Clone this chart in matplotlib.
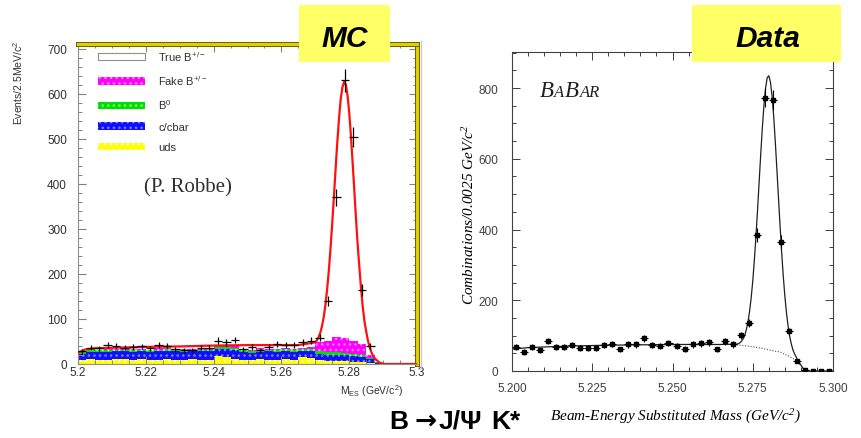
import numpy as np
import matplotlib.pyplot as plt
import matplotlib.patheffects as pe
from matplotlib.patches import Patch, Rectangle
from matplotlib.lines import Line2D
from matplotlib.ticker import MultipleLocator
from matplotlib.offsetbox import TextArea, HPacker, AnchoredOffsetbox

plt.rcParams['font.family'] = ['Liberation Sans', 'DejaVu Sans']
plt.rcParams['mathtext.default'] = 'regular'

# ---------------- MC (left panel), 40 bins of 2.5 MeV from 5.2 to 5.3 ----------------
mc_events = [28, 36, 35, 43, 41, 36, 38, 39, 35, 43, 41, 33, 30, 30, 36, 36, 52, 48, 53, 33,
             38, 31, 38, 44, 43, 43, 48, 52, 58, 140, 370, 630, 505, 165, 40, 0, 0, 0, 0, 0]
mc_uds = [9, 11, 9, 8, 11, 10, 8, 11, 9, 8, 11, 9, 8, 10, 9, 8, 17, 16, 12, 9,
          8, 10, 9, 8, 10, 9, 15, 14, 8, 7, 6, 6, 5, 4, 3, 1, 0, 0, 0, 0]
mc_ccbar = [14, 16, 18, 19, 17, 18, 19, 17, 18, 20, 18, 19, 19, 18, 19, 20, 17, 18, 20, 18,
            17, 17, 19, 18, 18, 17, 14, 15, 15, 14, 14, 13, 12, 11, 7, 2, 0, 0, 0, 0]
mc_b0 = [3, 4, 3, 4, 4, 3, 4, 4, 3, 4, 4, 3, 4, 4, 3, 4, 4, 4, 4, 4,
         4, 5, 4, 5, 5, 5, 5, 5, 6, 6, 6, 6, 5, 5, 4, 1, 0, 0, 0, 0]
mc_fake = [2, 2, 2, 3, 2, 2, 3, 2, 2, 3, 2, 2, 3, 2, 2, 3, 2, 2, 3, 2,
           2, 3, 2, 2, 3, 2, 2, 3, 19, 25, 35, 33, 30, 24, 5, 1, 0, 0, 0, 0]

mc_fit_x = [5.200, 5.202, 5.205, 5.210, 5.220, 5.230, 5.240, 5.250, 5.260, 5.265,
            5.2700, 5.2705, 5.2710, 5.2715, 5.2720, 5.2725, 5.2730, 5.2735, 5.2740, 5.2745,
            5.2750, 5.2755, 5.2760, 5.2765, 5.2770, 5.2775, 5.2780, 5.2785, 5.2790, 5.2795,
            5.2800, 5.2805, 5.2810, 5.2815, 5.2820, 5.2825, 5.2830, 5.2835, 5.2840, 5.2845,
            5.2850, 5.2855, 5.2860, 5.2865, 5.2870, 5.2875, 5.2880, 5.2885, 5.2890, 5.2895,
            5.2900, 5.3000]
mc_fit_y = [25, 32, 35, 36, 38, 39, 41, 42, 42, 42,
            48, 53, 60, 70, 85, 105, 132, 167, 208, 258,
            313, 373, 435, 494, 546, 589, 615, 627, 621, 597,
            559, 508, 449, 387, 324, 265, 215, 167, 127, 95,
            73, 53, 38, 27, 19, 13, 9, 6, 3, 1,
            0, 0]

# ---------------- Data (right panel) ----------------
data_counts = [69, 54, 69, 58, 85, 68, 69, 73, 66, 66, 65, 73, 77, 61, 75, 75, 92, 73, 70, 79,
               70, 62, 75, 78, 81, 61, 84, 75, 101, 135, 384, 773, 766, 366, 112, 28, 2, 0, 0, 0]

fit_x = [5.200, 5.205, 5.210, 5.220, 5.230, 5.240, 5.250, 5.260, 5.265,
         5.2700, 5.2705, 5.2710, 5.2715, 5.2720, 5.2725, 5.2730, 5.2735, 5.2740, 5.2745,
         5.2750, 5.2755, 5.2760, 5.2765, 5.2770, 5.2775, 5.2780, 5.2785, 5.2790, 5.2795,
         5.2800, 5.2805, 5.2810, 5.2815, 5.2820, 5.2825, 5.2830, 5.2835, 5.2840, 5.2845,
         5.2850, 5.2855, 5.2860, 5.2865, 5.2870, 5.2875, 5.2880, 5.2885, 5.2890, 5.2895,
         5.2900, 5.2905, 5.2910, 5.2915, 5.3000]
fit_y = [62, 66, 68, 71, 73, 74, 75, 75, 75,
         76, 77, 80, 84, 91, 100, 117, 138, 168, 206,
         254, 313, 381, 456, 536, 615, 689, 753, 800, 829,
         835, 818, 779, 723, 652, 573, 492, 412, 336, 269,
         212, 165, 128, 98, 77, 60, 49, 40, 31, 23,
         17, 10, 3, 0, 0]

bkg_x = [5.2700, 5.2720, 5.2740, 5.2760, 5.2780, 5.2800, 5.2820, 5.2835, 5.2850,
         5.2860, 5.2870, 5.2880, 5.2886, 5.2895, 5.2900, 5.2905, 5.2910, 5.2913]
bkg_y = [74, 72, 70, 67, 64, 60, 56, 54, 47, 43, 38, 33, 29, 20, 15, 9, 3, 0]

edges = np.linspace(5.2, 5.3, 41)
centers = 0.5 * (edges[:-1] + edges[1:])
half_bin = 0.5 * (edges[1] - edges[0])

W, H = 861, 439
fig = plt.figure(figsize=(W / 100, H / 100), dpi=100)
ax1 = fig.add_axes([78 / W, 1 - 365 / H, (417 - 78) / W, (365 - 45) / H])
ax2 = fig.add_axes([512 / W, 1 - 372 / H, (833 - 512) / W, (372 - 53) / H])

# ---- left panel: stacked MC components ----
uds = np.array(mc_uds, float)
cc = uds + np.array(mc_ccbar)
b0 = cc + np.array(mc_b0)
fake = b0 + np.array(mc_fake)

layers = [(fake, b0, '#ff00ff', '#ff80ff', 'Fake B$^{+/-}$'),
          (b0, cc, '#00e000', '#80ff80', 'B$^{0}$'),
          (cc, uds, '#1010ff', '#8080ff', 'c/cbar'),
          (uds, np.zeros(40), '#ffff00', '#ffffa8', 'uds')]
plt.rcParams['hatch.linewidth'] = 1.0
handles = [Patch(facecolor='white', edgecolor='#909090', lw=0.8, label='True B$^{+/-}$')]
for top, base, col, dot, lab in layers:
    ax1.stairs(top, edges, baseline=base, fill=True, facecolor=col, edgecolor=dot,
               hatch='...', lw=0)
    handles.append(Patch(facecolor=col, edgecolor=dot, hatch='...', lw=0, label=lab))

ax1.plot(mc_fit_x, mc_fit_y, color='#ff1010', lw=1.6, zorder=3)
ev = np.array(mc_events, float)
m = ev > 0
ax1.errorbar(centers[m], ev[m], xerr=half_bin, yerr=np.sqrt(ev[m]), fmt='none',
             ecolor='black', elinewidth=0.9, zorder=4)

ax1.set_xlim(5.2, 5.3)
ax1.set_ylim(0, 711)
ax1.xaxis.set_minor_locator(MultipleLocator(0.005))
ax1.yaxis.set_major_locator(MultipleLocator(100))
ax1.yaxis.set_minor_locator(MultipleLocator(20))
ax1.set_xticks([5.2, 5.22, 5.24, 5.26, 5.28, 5.3], ['5.2', '5.22', '5.24', '5.26', '5.28', '5.3'])
ax1.tick_params(which='both', direction='in', top=True, right=True, color='#808080')
ax1.tick_params(which='major', length=6, width=0.8)
ax1.tick_params(which='minor', length=3, width=0.7)
ax1.tick_params(axis='y', labelsize=8.5, pad=8, labelcolor='#303030')
ax1.tick_params(axis='x', labelsize=8.5, pad=1.5, labelcolor='#303030')
for s in ('left', 'bottom'):
    ax1.spines[s].set_color('#909090')
    ax1.spines[s].set_linewidth(0.8)
for s in ('top', 'right'):
    ax1.spines[s].set_color('#e0d000')
    ax1.spines[s].set_linewidth(2.2)
    ax1.spines[s].set_path_effects([pe.Stroke(linewidth=3.6, foreground='#6a6000'), pe.Normal()])

ax1.set_ylabel('Events/2.5MeV/c$^2$', fontsize=7.5, color='#303030')
ax1.yaxis.set_label_coords(-0.156, 0.88)
ax1.set_xlabel('M$_{ES}$ (GeV/c$^2$)', fontsize=7.5, color='#303030')
ax1.xaxis.set_label_coords(0.867, -0.058)

ax1.legend(handles=handles, loc='upper left', bbox_to_anchor=(0.059, 0.985), frameon=False,
           fontsize=8, handlelength=4.2, handleheight=0.65, handletextpad=1.2,
           labelspacing=0.95, borderpad=0, borderaxespad=0, labelcolor='#303030')
ax1.text(0.325, 0.555, '(P. Robbe)', transform=ax1.transAxes, ha='center', va='center',
         fontsize=15, family='Liberation Serif', color='#303030')

# ---- right panel: data ----
dc = np.array(data_counts, float)
ax2.plot(fit_x, fit_y, color='#202020', lw=0.9, zorder=2)
ax2.plot(bkg_x, bkg_y, color='#505050', lw=0.8, ls=(0, (1, 1.5)), zorder=2)
ax2.errorbar(centers, dc, xerr=half_bin, yerr=np.sqrt(dc), fmt='s', ms=3.5, color='black',
             ecolor='black', elinewidth=0.8, zorder=3)
ax2.set_xlim(5.2, 5.3)
ax2.set_ylim(0, 902)
ax2.xaxis.set_major_locator(MultipleLocator(0.025))
ax2.xaxis.set_minor_locator(MultipleLocator(0.005))
ax2.yaxis.set_major_locator(MultipleLocator(200))
ax2.yaxis.set_minor_locator(MultipleLocator(50))
ax2.xaxis.set_major_formatter(plt.FormatStrFormatter('%.3f'))
ax2.tick_params(which='both', direction='in', top=True, right=True, color='#404040')
ax2.tick_params(which='major', length=6, width=0.7)
ax2.tick_params(which='minor', length=3, width=0.7)
ax2.tick_params(axis='y', labelsize=8.5, pad=10, labelcolor='#404040')
ax2.tick_params(axis='x', labelsize=8.5, pad=8, labelcolor='#404040')
for s in ax2.spines.values():
    s.set_color('#404040')
    s.set_linewidth(0.8)
ax2.set_ylabel('Combinations/0.0025 GeV/c$^2$', fontsize=11, style='italic',
               family='Liberation Serif')
ax2.yaxis.set_label_coords(-0.109, 0.495)
ax2.set_xlabel('Beam-Energy Substituted Mass (GeV/c$^2$)', fontsize=11, style='italic',
               family='Liberation Serif')
ax2.xaxis.set_label_coords(0.508, -0.113)

big = dict(fontsize=16.5, style='italic', family='Liberation Serif', color='#202020')
small = dict(fontsize=12, style='italic', family='Liberation Serif', color='#202020')
babar = HPacker(children=[TextArea('B', textprops=big), TextArea('A', textprops=small),
                          TextArea('B', textprops=big), TextArea('AR', textprops=small)],
                align='baseline', pad=0, sep=0.5)
ax2.add_artist(AnchoredOffsetbox(loc='lower left', child=babar, bbox_to_anchor=(0.085, 0.845),
                                 bbox_transform=ax2.transAxes, frameon=False, pad=0,
                                 borderpad=0))

# ---- figure decorations ----
fig.add_artist(Line2D([421 / W, 421 / W], [1 - 42 / H, 1 - 370 / H], color='#cccccc', lw=1))
for (x0, x1), label, xc in [((299, 390), 'MC', 344.5), ((692, 841), 'Data', 768)]:
    fig.add_artist(Rectangle((x0 / W, 1 - 63 / H), (x1 - x0) / W, 57 / H,
                             transform=fig.transFigure, facecolor='#ffff66', edgecolor='none',
                             zorder=10))
    fig.text(xc / W, 1 - 47 / H, label, ha='center', va='baseline', fontsize=21.5,
             fontweight='bold', style='italic', zorder=11)

# bottom caption, pieces placed at their positions in the slide
base_y = 1 - 429 / H
for xpix, piece, fam in [(389, 'B', 'Liberation Sans'), (415, '\u2192', 'DejaVu Sans'),
                         (439, 'J/\u03a8', 'Liberation Sans'), (491, 'K*', 'Liberation Sans')]:
    fig.text(xpix / W, base_y, piece, ha='left', va='baseline', fontsize=19,
             fontweight='bold', family=fam)

fig.savefig('out.png', dpi=100)
